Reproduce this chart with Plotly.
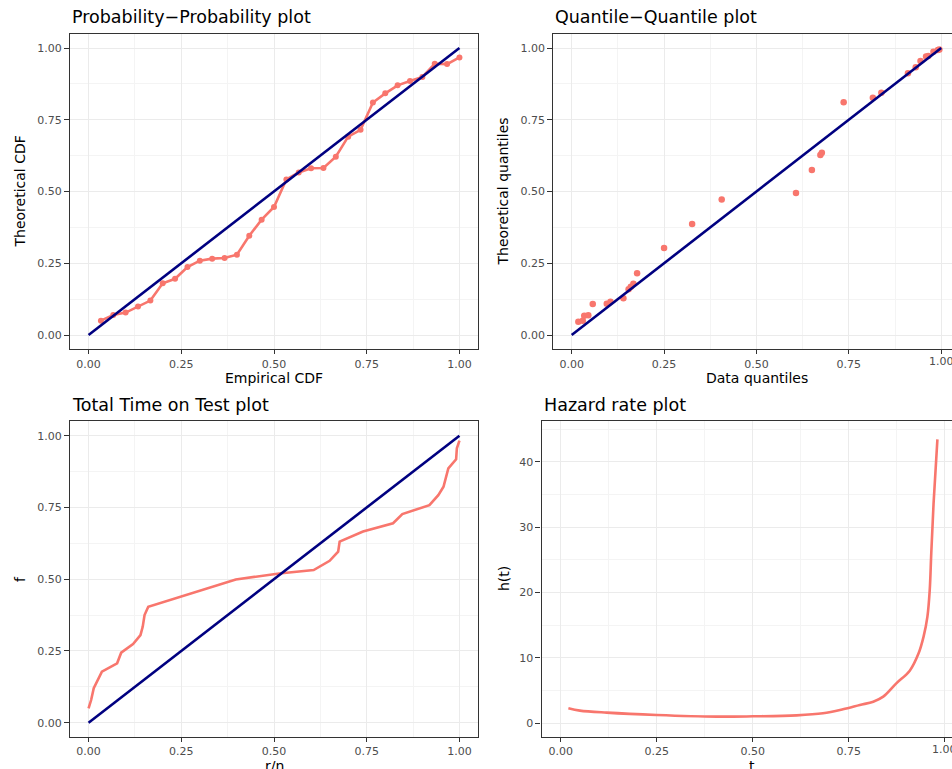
import plotly.graph_objects as go

# ---------------- data ----------------
pp_empirical = [i / 30 for i in range(1, 31)]
pp_theoretical = [0.050, 0.070, 0.078, 0.099, 0.120, 0.180, 0.196, 0.237, 0.259, 0.266,
                  0.268, 0.280, 0.346, 0.402, 0.446, 0.542, 0.566, 0.581, 0.582, 0.621,
                  0.691, 0.715, 0.810, 0.842, 0.870, 0.885, 0.899, 0.945, 0.944, 0.967]

qq_data = [0.018, 0.030, 0.034, 0.045, 0.057, 0.095, 0.105, 0.140, 0.154, 0.160,
           0.167, 0.177, 0.250, 0.326, 0.406, 0.607, 0.650, 0.673, 0.677, 0.736,
           0.815, 0.838, 0.910, 0.931, 0.944, 0.959, 0.965, 0.979, 0.991, 0.995]
qq_theoretical = [0.046, 0.050, 0.067, 0.069, 0.108, 0.109, 0.116, 0.128, 0.159, 0.168,
                  0.179, 0.215, 0.303, 0.387, 0.472, 0.495, 0.575, 0.627, 0.635, 0.811,
                  0.827, 0.844, 0.912, 0.933, 0.955, 0.970, 0.972, 0.987, 0.993, 0.995]

ttt_rn = [0.0, 0.007, 0.014, 0.036, 0.077, 0.088, 0.120, 0.140, 0.146, 0.151, 0.161,
          0.397, 0.514, 0.607, 0.650, 0.673, 0.677, 0.740, 0.821, 0.846, 0.919, 0.943,
          0.957, 0.970, 0.991, 0.993, 1.0]
ttt_f = [0.050, 0.079, 0.120, 0.178, 0.207, 0.244, 0.274, 0.305, 0.334, 0.375, 0.404,
         0.499, 0.520, 0.532, 0.564, 0.596, 0.631, 0.666, 0.695, 0.727, 0.758, 0.793,
         0.822, 0.886, 0.918, 0.956, 0.983]

hz_t = [0.020, 0.050, 0.120, 0.250, 0.406, 0.501, 0.614, 0.683, 0.735, 0.779, 0.814,
        0.840, 0.874, 0.909, 0.932, 0.945, 0.955, 0.961, 0.965, 0.971, 0.981]
hz_h = [2.29, 1.94, 1.63, 1.27, 1.02, 1.07, 1.22, 1.53, 2.14, 2.80, 3.31,
        4.08, 6.11, 8.05, 10.70, 13.25, 16.31, 20.38, 25.99, 33.63, 43.41]

ref_line = [0, 1]
unit_ticks = [0, 0.25, 0.5, 0.75, 1.0]
unit_labels = ["0.00", "0.25", "0.50", "0.75", "1.00"]
hz_ticks = [0, 10, 20, 30, 40]

titles = ["Probability\u2212Probability plot", "Quantile\u2212Quantile plot",
          "Total Time on Test plot", "Hazard rate plot"]
xtitles = ["Empirical CDF", "Data quantiles", "r/n", "t"]
ytitles = ["Theoretical CDF", "Theoretical quantiles", "f", "h(t)"]

# ---------------- style ----------------
W, H = 952, 769
FONT = "DejaVu Sans"
RED = "#F8766D"
NAVY = "#000080"
BORDER = "#333333"
GRID = "#EBEBEB"
MINOR = "#F4F4F4"
TICKCOL = "#4D4D4D"


def px_x(p):
    return p / W


def px_y(p):
    return 1 - p / H


fig = go.Figure()

# PP plot
fig.add_trace(go.Scatter(x=pp_empirical, y=pp_theoretical, mode="lines+markers",
                         line=dict(color=RED, width=2.6), marker=dict(color=RED, size=6),
                         xaxis="x", yaxis="y", showlegend=False))
fig.add_trace(go.Scatter(x=ref_line, y=ref_line, mode="lines",
                         line=dict(color=NAVY, width=2.6), xaxis="x", yaxis="y", showlegend=False))
# QQ plot
fig.add_trace(go.Scatter(x=qq_data, y=qq_theoretical, mode="markers",
                         marker=dict(color=RED, size=6.5), xaxis="x2", yaxis="y2", showlegend=False))
fig.add_trace(go.Scatter(x=ref_line, y=ref_line, mode="lines",
                         line=dict(color=NAVY, width=2.6), xaxis="x2", yaxis="y2", showlegend=False))
# TTT plot
fig.add_trace(go.Scatter(x=ttt_rn, y=ttt_f, mode="lines",
                         line=dict(color=RED, width=2.6), xaxis="x3", yaxis="y3", showlegend=False))
fig.add_trace(go.Scatter(x=ref_line, y=ref_line, mode="lines",
                         line=dict(color=NAVY, width=2.6), xaxis="x3", yaxis="y3", showlegend=False))
# Hazard
fig.add_trace(go.Scatter(x=hz_t, y=hz_h, mode="lines", line_shape="spline",
                         line=dict(color=RED, width=2.6), xaxis="x4", yaxis="y4", showlegend=False))

tickfont = dict(family=FONT, size=11, color=TICKCOL)


def xaxis(dom, rng, anchor, labels):
    return dict(domain=[px_x(dom[0]), px_x(dom[1])], range=rng, anchor=anchor,
                tickvals=unit_ticks, ticktext=labels, tickfont=tickfont,
                ticks="outside", ticklen=4, tickcolor=BORDER, tickwidth=1,
                showline=True, linecolor=BORDER, linewidth=1.2, mirror=True,
                showgrid=True, gridcolor=GRID, gridwidth=1.2, zeroline=False,
                minor=dict(dtick=0.125, tick0=0, showgrid=True, gridcolor=MINOR, gridwidth=0.8),
                fixedrange=True)


def yaxis(dom, rng, anchor, vals, texts, minor_dtick, mirror=True):
    return dict(domain=[px_y(dom[1]), px_y(dom[0])], range=rng, anchor=anchor,
                tickvals=vals, ticktext=texts, tickfont=tickfont,
                ticks="outside", ticklen=5, tickcolor=BORDER, tickwidth=1,
                showline=True, linecolor=BORDER, linewidth=1.2, mirror=mirror,
                showgrid=True, gridcolor=GRID, gridwidth=1.2, zeroline=False,
                minor=dict(dtick=minor_dtick, tick0=0, showgrid=True, gridcolor=MINOR, gridwidth=0.8),
                fixedrange=True)


TOP = (33.65, 349.35)
BOT = (421.35, 737.05)
# right-hand panels: last label is placed separately because it runs past the page edge
cut_labels = unit_labels[:-1] + [""]

fig.update_layout(
    width=W, height=H, margin=dict(l=0, r=0, t=0, b=0),
    paper_bgcolor="white", plot_bgcolor="white",
    font=dict(family=FONT, color="black"),
    xaxis=xaxis((70.0, 478.0), [-0.05, 1.05], "y", unit_labels),
    yaxis=yaxis(TOP, [-0.05, 1.05], "x", unit_ticks, unit_labels, 0.125),
    xaxis2=xaxis((553.2, 952.0), [-0.05, 1.0292], "y2", cut_labels),
    yaxis2=yaxis(TOP, [-0.05, 1.05], "x2", unit_ticks, unit_labels, 0.125, mirror=False),
    xaxis3=xaxis((70.0, 478.0), [-0.05, 1.05], "y3", unit_labels),
    yaxis3=yaxis(BOT, [-0.05, 1.05], "x3", unit_ticks, unit_labels, 0.125),
    xaxis4=xaxis((541.5, 952.0), [-0.05, 1.019], "y4", cut_labels),
    yaxis4=yaxis(BOT, [-2.1, 46.17], "x4", hz_ticks, [str(v) for v in hz_ticks], 5, mirror=False),
)

ann = []
title_pos = [(70, 17), (553, 17), (70, 405), (541.5, 405)]
for t, (x, y) in zip(titles, title_pos):
    ann.append(dict(text=t, x=px_x(x), y=px_y(y), xref="paper", yref="paper",
                    xanchor="left", yanchor="middle", showarrow=False,
                    font=dict(family=FONT, size=17.5, color="black")))
xt_pos = [(274, 377.5), (757, 377.5), (274, 765.5), (752, 765.5)]
for t, (x, y) in zip(xtitles, xt_pos):
    ann.append(dict(text=t, x=px_x(x), y=px_y(y), xref="paper", yref="paper",
                    xanchor="center", yanchor="middle", showarrow=False,
                    font=dict(family=FONT, size=14, color="black")))
yt_pos = [(20, 191.5), (503, 191.5), (20, 579), (504, 579)]
for t, (x, y) in zip(ytitles, yt_pos):
    ann.append(dict(text=t, x=px_x(x), y=px_y(y), xref="paper", yref="paper",
                    xanchor="center", yanchor="middle", showarrow=False, textangle=-90,
                    font=dict(family=FONT, size=14, color="black")))
for xr, ypx in (("x2", 361.5), ("x4", 749.0)):
    ann.append(dict(text=unit_labels[-1], x=unit_ticks[-1], y=px_y(ypx), xref=xr, yref="paper",
                    xanchor="center", yanchor="middle", showarrow=False,
                    font=tickfont))
fig.update_layout(annotations=ann)

fig.write_html("out.html", config={"displayModeBar": False},
               post_script="document.body.style.margin='0';document.body.style.overflow='hidden';")
